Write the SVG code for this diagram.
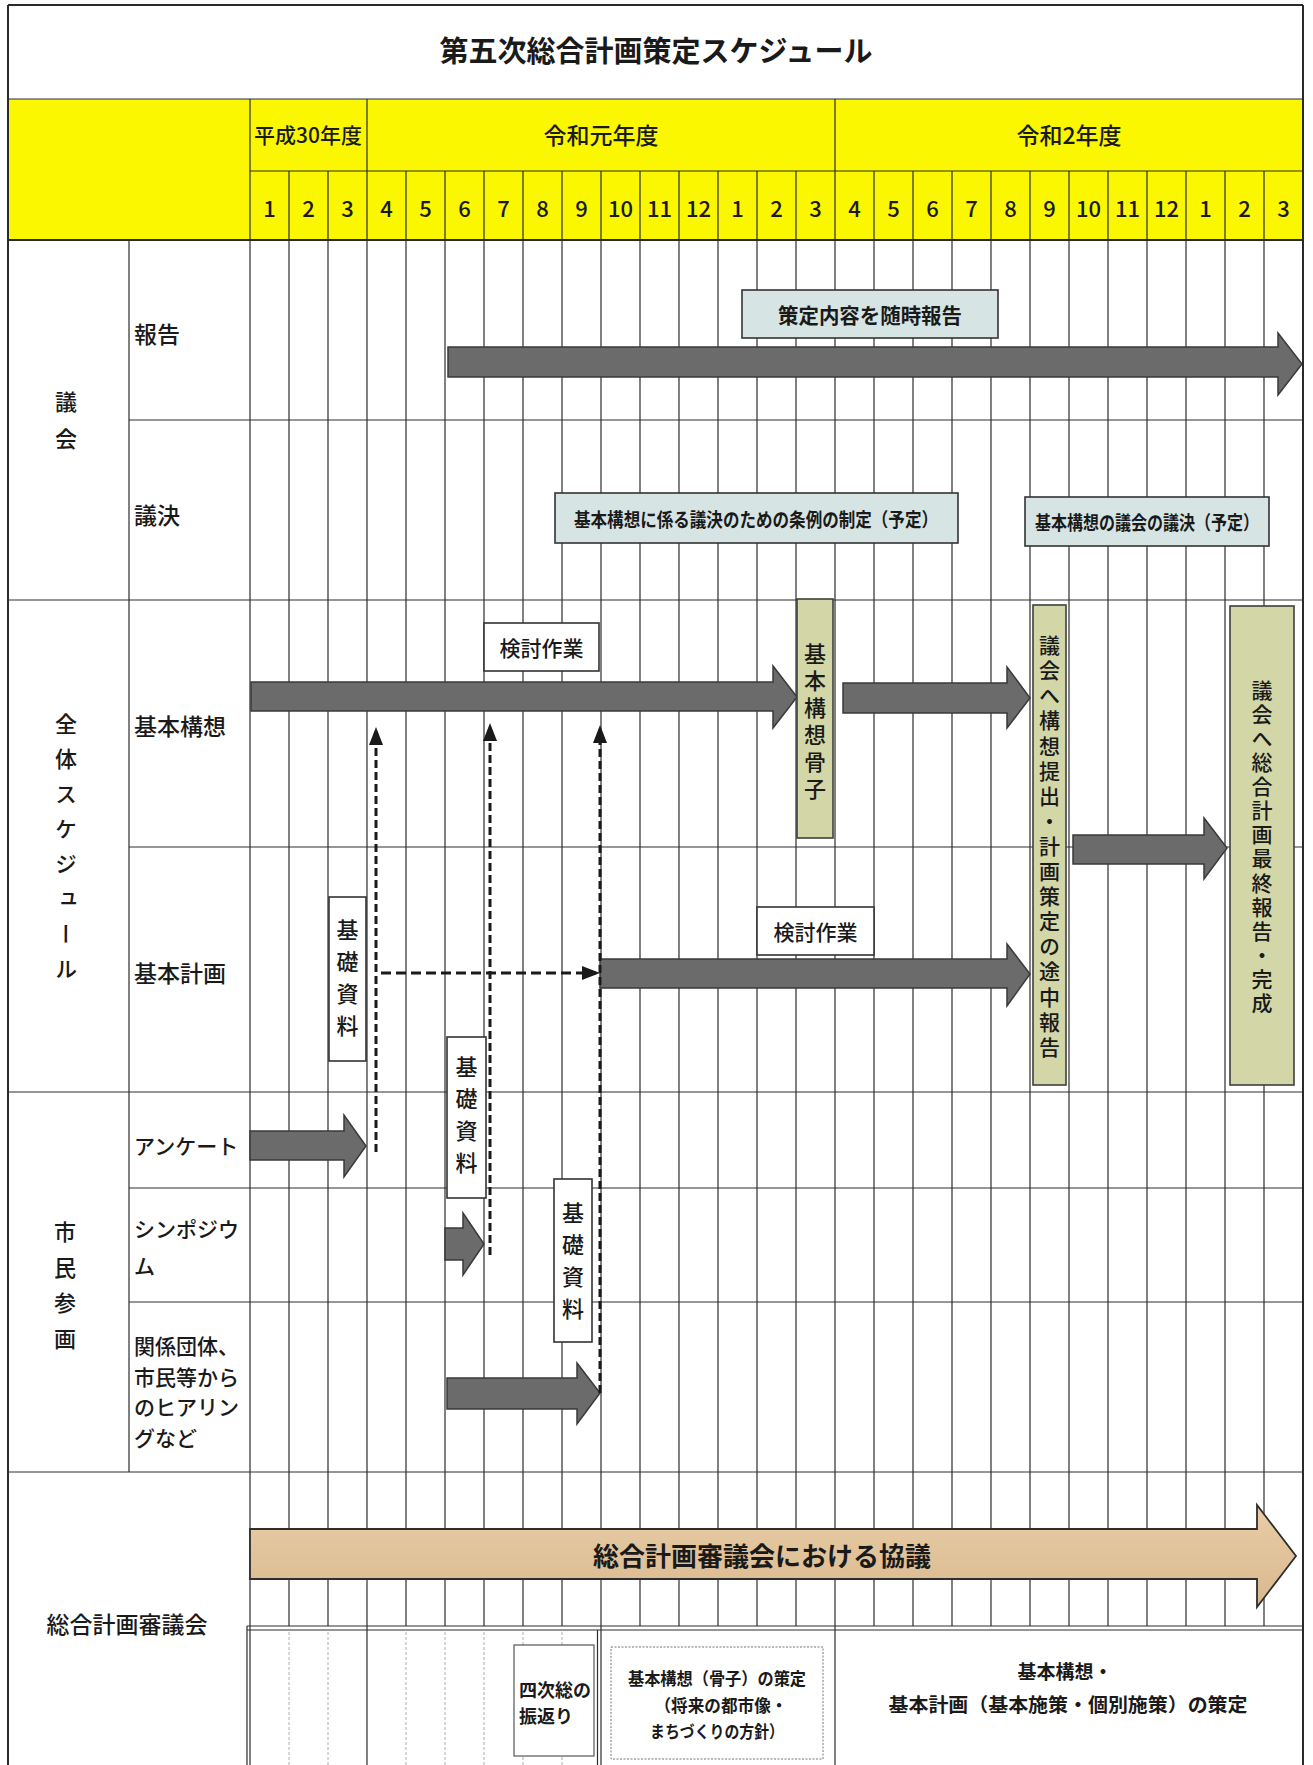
<svg xmlns="http://www.w3.org/2000/svg" width="1313" height="1765" viewBox="0 0 1313 1765">
<defs>
<style>
.t{font-family:"Noto Sans CJK JP","Noto Sans",sans-serif;fill:#1a1a1a;dominant-baseline:central;font-weight:500}
.m{text-anchor:middle}
.b{font-weight:bold}
.vt{writing-mode:vertical-rl;text-anchor:middle}
.grid{stroke:#2e2e2e;stroke-width:1.2;fill:none}
.thick{stroke:#2a2a2a;stroke-width:2;fill:none}
.faint{stroke:#9a9a9a;stroke-width:0.8;stroke-dasharray:3 2;fill:none}
.bar{fill:#6b6b6b;stroke:#3a3a3a;stroke-width:1.5}
.blue{fill:#d6e4e4;stroke:#333;stroke-width:1.6}
.olive{fill:#d3d6a6;stroke:#3f3f3f;stroke-width:1.6}
.wbox{fill:#fff;stroke:#333;stroke-width:1.6}
.dash{stroke:#1a1a1a;stroke-width:3;fill:none;marker-end:url(#ah)}
.dv{stroke-dasharray:8 4}
.dh{stroke-dasharray:10 5}
</style>
<marker id="ah" viewBox="0 0 18 14" refX="14" refY="7" markerWidth="18" markerHeight="14" markerUnits="userSpaceOnUse" orient="auto">
<path d="M0,0 L18,7 L0,14 Z" fill="#1a1a1a"/>
</marker>
<linearGradient id="tan" x1="0" y1="0" x2="0" y2="1">
<stop offset="0" stop-color="#e9cda6"/>
<stop offset="1" stop-color="#d9b88e"/>
</linearGradient>
</defs>

<rect x="0" y="0" width="1313" height="1765" fill="#fff"/>

<g id="header">
<rect x="8" y="99" width="1295" height="141" fill="#fbf700"/>
<text class="t m b" x="656" y="49" font-size="29">第五次総合計画策定スケジュール</text>
<text class="t m" x="308" y="134" font-size="21">平成30年度</text>
<text class="t m" x="601" y="134" font-size="23">令和元年度</text>
<text class="t m" x="1069" y="134" font-size="23">令和2年度</text>
<g font-size="22">
<text class="t m" x="269.5" y="207">1</text>
<text class="t m" x="308.5" y="207">2</text>
<text class="t m" x="347.5" y="207">3</text>
<text class="t m" x="386.5" y="207">4</text>
<text class="t m" x="425.5" y="207">5</text>
<text class="t m" x="464.5" y="207">6</text>
<text class="t m" x="503.5" y="207">7</text>
<text class="t m" x="542.5" y="207">8</text>
<text class="t m" x="581.5" y="207">9</text>
<text class="t m" x="620.5" y="207">10</text>
<text class="t m" x="659.5" y="207">11</text>
<text class="t m" x="698.5" y="207">12</text>
<text class="t m" x="737.5" y="207">1</text>
<text class="t m" x="776.5" y="207">2</text>
<text class="t m" x="815.5" y="207">3</text>
<text class="t m" x="854.5" y="207">4</text>
<text class="t m" x="893.5" y="207">5</text>
<text class="t m" x="932.5" y="207">6</text>
<text class="t m" x="971.5" y="207">7</text>
<text class="t m" x="1010.5" y="207">8</text>
<text class="t m" x="1049.5" y="207">9</text>
<text class="t m" x="1088.5" y="207">10</text>
<text class="t m" x="1127.5" y="207">11</text>
<text class="t m" x="1166.5" y="207">12</text>
<text class="t m" x="1205.5" y="207">1</text>
<text class="t m" x="1244.5" y="207">2</text>
<text class="t m" x="1283.5" y="207">3</text>
</g>
</g>

<g id="grid">
<path class="grid" d="M289,171V1626 M328,171V1626 M406,171V1626 M445,171V1626 M484,171V1626 M523,171V1626 M562,171V1626 M640,171V1626 M679,171V1626 M718,171V1626 M757,171V1626 M796,171V1626 M874,171V1626 M913,171V1626 M952,171V1626 M991,171V1626 M1030,171V1626 M1069,171V1626 M1108,171V1626 M1147,171V1626 M1186,171V1626 M1225,171V1626 M1264,171V1626"/>
<path class="grid" d="M250,99V1765 M367,99V1765 M835,99V1765 M601,171V1765 M129,240V1472 M247,1626V1765 M597.5,1630V1765"/>
<path class="faint" d="M289,1632V1765 M328,1632V1765 M406,1632V1765 M445,1632V1765 M484,1632V1765 M523,1632V1765 M562,1632V1765"/>
<path class="grid" d="M8,99H1303 M250,171H1303 M129,420H1303 M8,600H1303 M129,847H1303 M8,1092H1303 M129,1188H1303 M129,1302H1303 M8,1472H1303 M247,1626H1303 M247,1630H1303"/>
<path class="thick" d="M8,5H1303 M8,240H1303 M8,5V1765 M1303,5V1765"/>
</g>

<g id="labels">
<text class="t vt" x="66" y="428" font-size="22" letter-spacing="15">議会</text>
<text class="t" x="134" y="333" font-size="23">報告</text>
<text class="t" x="134" y="514" font-size="23">議決</text>
<text class="t vt" x="66" y="853" font-size="22" letter-spacing="13">全体スケジュール</text>
<text class="t" x="134" y="725" font-size="23">基本構想</text>
<text class="t" x="134" y="972" font-size="23">基本計画</text>
<text class="t vt" x="65" y="1292" font-size="22" letter-spacing="13.7">市民参画</text>
<text class="t" x="134" y="1145" font-size="21">アンケート</text>
<text class="t" font-size="21"><tspan x="134" y="1228">シンポジウ</tspan><tspan x="134" y="1265">ム</tspan></text>
<text class="t" font-size="21"><tspan x="134" y="1345">関係団体、</tspan><tspan x="134" y="1376">市民等から</tspan><tspan x="134" y="1406">のヒアリン</tspan><tspan x="134" y="1437">グなど</tspan></text>
<text class="t m" x="127" y="1623" font-size="23">総合計画審議会</text>
</g>

<g id="bars">
<polygon id="bar-report" class="bar" points="448,347 1278,347 1278,333 1302,364 1278,395 1278,377 448,377"/>
<polygon id="bar-kousou1" class="bar" points="251,682 773,682 773,666 797,697 773,728 773,711 251,711"/>
<polygon id="bar-kousou2" class="bar" points="843,683 1007,683 1007,667 1030,698 1007,728 1007,713 843,713"/>
<polygon id="bar-mid" class="bar" points="1073,835 1204,835 1204,818 1227,848 1204,879 1204,864 1073,864"/>
<polygon id="bar-keikaku" class="bar" points="600,959 1007,959 1007,944 1030,974 1007,1006 1007,988 600,988"/>
<polygon id="bar-enquete" class="bar" points="250,1131 344,1131 344,1115 366,1146 344,1177 344,1160 250,1160"/>
<polygon id="bar-sympo" class="bar" points="445,1228 463,1228 463,1213 484,1244 463,1275 463,1260 445,1260"/>
<polygon id="bar-hearing" class="bar" points="447,1378 577,1378 577,1363 600,1393 577,1424 577,1409 447,1409"/>
<g id="bar-shingikai">
<polygon points="250,1529 1257,1529 1257,1505 1296,1556 1257,1607 1257,1579 250,1579" fill="url(#tan)" stroke="#2e2e2e" stroke-width="1.8"/>
<text class="t m b" x="762" y="1554" font-size="26">総合計画審議会における協議</text>
</g>
</g>

<g id="connectors">
<path class="dash dv" d="M376,1152 V731"/>
<path class="dash dv" d="M490,1255 V727"/>
<path class="dash dv" d="M600,1393 V729"/>
<path class="dash dh" d="M381,973 H596"/>
</g>

<g id="node-zuiji">
<rect class="blue" x="742" y="290" width="256" height="48"/>
<text class="t m b" x="870" y="314" font-size="21" textLength="184" lengthAdjust="spacingAndGlyphs">策定内容を随時報告</text>
</g>
<g id="node-jourei">
<rect class="blue" x="555" y="493" width="403" height="50"/>
<text class="t m b" x="756" y="518" font-size="19" textLength="364" lengthAdjust="spacingAndGlyphs">基本構想に係る議決のための条例の制定（予定）</text>
</g>
<g id="node-giketsu">
<rect class="blue" x="1025" y="497" width="244" height="49"/>
<text class="t m b" x="1147" y="521.5" font-size="19" textLength="224" lengthAdjust="spacingAndGlyphs">基本構想の議会の議決（予定）</text>
</g>
<g id="node-kentou1">
<rect class="wbox" x="484" y="623" width="115" height="48"/>
<text class="t m" x="541.5" y="647" font-size="21">検討作業</text>
</g>
<g id="node-kentou2">
<rect class="wbox" x="757" y="907" width="117" height="48"/>
<text class="t m" x="815.5" y="931" font-size="21">検討作業</text>
</g>
<g id="node-kossi">
<rect class="olive" x="797" y="599" width="36" height="239"/>
<text class="t vt" x="815" y="724" font-size="22" letter-spacing="5">基本構想骨子</text>
</g>
<g id="node-chuukan">
<rect class="olive" x="1033" y="605" width="33" height="480"/>
<text class="t vt" x="1049.5" y="848" font-size="21" letter-spacing="4.1">議会へ構想提出・計画策定の途中報告</text>
</g>
<g id="node-saishuu">
<rect class="olive" x="1230" y="606" width="64" height="479"/>
<text class="t vt" x="1262" y="848" font-size="21" letter-spacing="3.1">議会へ総合計画最終報告・完成</text>
</g>
<g id="node-kiso1">
<rect class="wbox" x="329" y="897" width="37" height="164"/>
<text class="t vt" x="347.5" y="983" font-size="22" letter-spacing="10">基礎資料</text>
</g>
<g id="node-kiso2">
<rect class="wbox" x="447" y="1037" width="39" height="161"/>
<text class="t vt" x="466.5" y="1120" font-size="22" letter-spacing="10">基礎資料</text>
</g>
<g id="node-kiso3">
<rect class="wbox" x="554" y="1179" width="38" height="163"/>
<text class="t vt" x="573" y="1266" font-size="22" letter-spacing="10">基礎資料</text>
</g>

<g id="node-furikaeri">
<rect x="514" y="1645" width="80" height="111" fill="#fff" stroke="#555" stroke-width="1.2"/>
<text class="t b" font-size="18"><tspan x="519" y="1689">四次総の</tspan><tspan x="519" y="1715">振返り</tspan></text>
</g>
<g id="node-kossi-sakutei">
<rect x="611" y="1647" width="212" height="112" fill="#fff" stroke="#777" stroke-width="1" stroke-dasharray="2 1.5"/>
<text class="t m b" x="717" y="1677" font-size="17" textLength="178" lengthAdjust="spacingAndGlyphs">基本構想（骨子）の策定</text>
<text class="t m b" x="721" y="1704" font-size="17" textLength="133" lengthAdjust="spacingAndGlyphs">（将来の都市像・</text>
<text class="t m b" x="717" y="1730" font-size="17" textLength="134" lengthAdjust="spacingAndGlyphs">まちづくりの方針）</text>
</g>
<g id="node-sakutei">
<text class="t m b" x="1065" y="1670" font-size="19">基本構想・</text>
<text class="t m b" x="1068" y="1703" font-size="19" textLength="359" lengthAdjust="spacingAndGlyphs">基本計画（基本施策・個別施策）の策定</text>
</g>
</svg>
